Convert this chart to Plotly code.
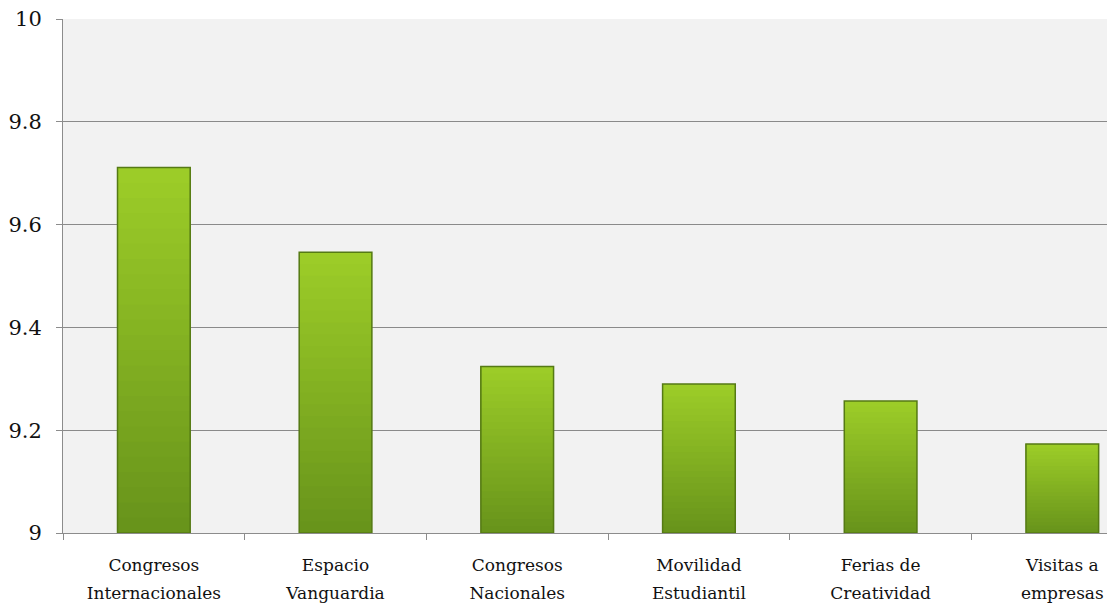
import plotly.graph_objects as go

categories = ["Congresos<br>Internacionales", "Espacio<br>Vanguardia", "Congresos<br>Nacionales",
              "Movilidad<br>Estudiantil", "Ferias de<br>Creatividad", "Visitas a<br>empresas"]
values = [9.711, 9.546, 9.324, 9.290, 9.257, 9.173]
y_ticks = [9, 9.2, 9.4, 9.6, 9.8, 10]
y_tick_labels = ["9", "9.2", "9.4", "9.6", "9.8", "10"]
BASE = 9.0

SERIF = "DejaVu Serif"

fig = go.Figure()

N = 24
top_rgb = (0x9c, 0xcc, 0x28)
bot_rgb = (0x68, 0x94, 0x1b)
for k in range(N):
    t = k / (N - 1)
    c = tuple(int(round(bot_rgb[i] + (top_rgb[i] - bot_rgb[i]) * t)) for i in range(3))
    bases = [BASE + k * (v - BASE) / N for v in values]
    heights = [v - b for v, b in zip(values, bases)]
    fig.add_trace(go.Bar(
        x=categories, y=heights, base=bases, width=0.4,
        marker=dict(color="rgb(%d,%d,%d)" % c, line=dict(width=0)),
        showlegend=False, hoverinfo="skip"))

fig.add_trace(go.Bar(
    x=categories, y=[v - BASE for v in values], base=[BASE] * len(values), width=0.4,
    marker=dict(color="rgba(0,0,0,0)", line=dict(color="#557a14", width=1.5)),
    showlegend=False))

x_tick_text = ["<span style='font-size:17px'>%s</span>" % c.replace("<br>", "</span><br><span style='font-size:17px'>")
               for c in categories]

fig.update_layout(
    width=1107, height=603,
    barmode="overlay",
    paper_bgcolor="white",
    plot_bgcolor="#f2f2f2",
    margin=dict(l=55, r=0, t=11, b=78),
    font=dict(family=SERIF, size=18, color="#111111"),
    xaxis=dict(
        range=[-0.5, 5.29], automargin=False,
        tickvals=categories, ticktext=x_tick_text,
        showline=True, linecolor="#8c8c8c", linewidth=1,
        ticks="outside", ticklen=6, tickcolor="#8c8c8c",
        tickson="boundaries", showgrid=False, ticklabelstandoff=12,
        tickfont=dict(family=SERIF, size=21, color="#111111"),
    ),
    yaxis=dict(
        range=[9, 10], tickvals=y_ticks, ticktext=y_tick_labels,
        showline=True, linecolor="#8c8c8c", linewidth=1,
        ticks="outside", ticklen=6, tickcolor="#8c8c8c",
        showgrid=True, gridcolor="#8a8a8a", gridwidth=1,
        zeroline=False, automargin=False, ticklabeloverflow="allow",
        ticklabelstandoff=10,
        tickfont=dict(family=SERIF, size=21, color="#111111"),
    ),
)

fig.write_html("out.html")
